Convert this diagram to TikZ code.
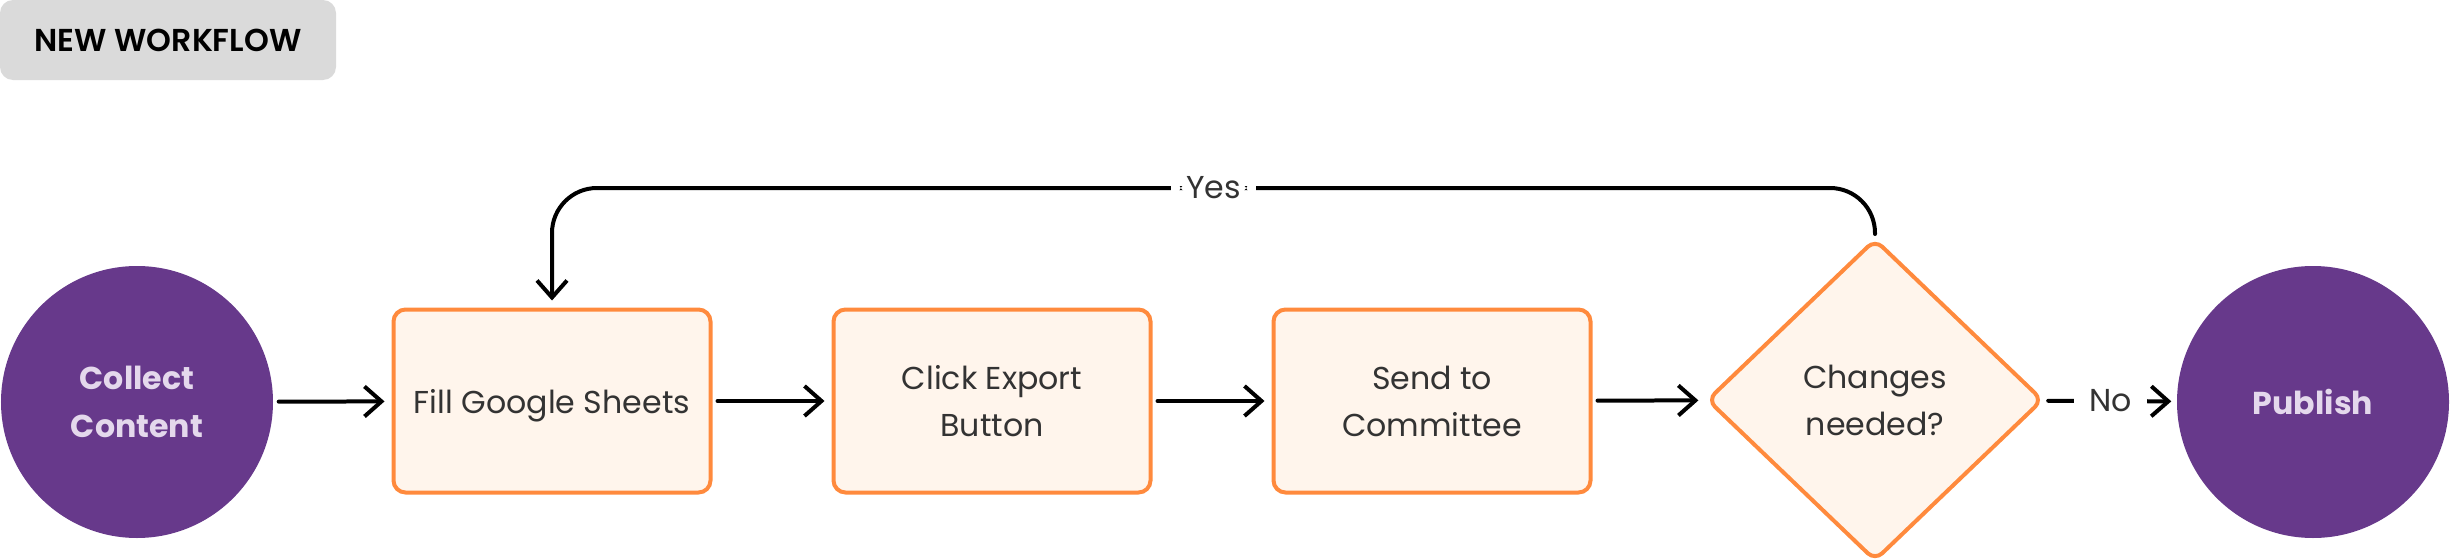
\documentclass[tikz,border=0pt]{standalone}
\usepackage{fontspec}
\setmainfont{Poppins}
\newfontfamily\semibold{Poppins SemiBold}
\usetikzlibrary{shapes.geometric,arrows.meta}

\definecolor{flowpurple}{HTML}{67398B}
\definecolor{flowlilac}{HTML}{E4D8EC}
\definecolor{floworange}{HTML}{FF8A3D}
\definecolor{flowcream}{HTML}{FFF5EC}
\definecolor{flowgrey}{HTML}{DADADA}
\definecolor{flowtext}{HTML}{333333}

\tikzset{
  endpoint/.style={circle, fill=flowpurple, minimum size=2.72cm, inner sep=0pt,
    align=center, text=flowlilac, font=\fontsize{9}{13.8}\selectfont\bfseries},
  task/.style={rectangle, rounded corners=0.12cm, draw=floworange, fill=flowcream,
    line width=0.04cm, minimum width=3.17cm, minimum height=1.83cm,
    align=center, text=flowtext, font=\fontsize{9}{13.4}\selectfont},
  decision/.style={diamond, rounded corners=0.1cm, draw=floworange, fill=flowcream,
    line width=0.04cm, minimum width=3.36cm, minimum height=3.22cm, inner sep=0pt,
    align=center, text=flowtext, font=\fontsize{9}{13.4}\selectfont},
  flow/.style={-{Straight Barb[length=0.17cm,width=0.3cm]}, line width=0.04cm,
    line cap=round, line join=round, shorten <=0.05cm, shorten >=0.07cm},
  answer/.style={fill=white, inner xsep=0.15cm, inner ysep=0.06cm, text=flowtext,
    font=\fontsize{9}{13.4}\selectfont}
}

\begin{document}
\begin{tikzpicture}[scale=1.0]

  % canvas: 2450 x 560 px, 1 px = 0.01 cm, origin at top left
  \useasboundingbox (0,0) rectangle (24.5,-5.6);

  % --- Title tag ---
  \node[rectangle, rounded corners=0.13cm, fill=flowgrey, minimum width=3.36cm,
        minimum height=0.80cm, text=black, font=\fontsize{9}{11}\selectfont\semibold]
        (title) at (1.68,-0.40) {NEW WORKFLOW};

  % --- Start and end ---
  \node[endpoint] (collect) at (1.37,-4.02) {Collect\\Content};
  \node[endpoint] (publish) at (23.13,-4.02) {Publish};

  % --- Steps ---
  \node[task, text depth=0pt] (fill) at (5.52,-4.01) {Fill Google Sheets};
  \node[task] (click) at (9.92,-4.01)  {Click Export\\Button};
  \node[task] (send)  at (14.32,-4.01) {Send to\\Committee};

  % --- Check ---
  \node[decision] (check) at (18.75,-4.00) {Changes\\needed?};

  % --- Main line ---
  \draw[flow] (collect) -- (fill);
  \draw[flow] (fill) -- (click);
  \draw[flow] (click) -- (send);
  \draw[flow] (send) -- (check);
  \draw[flow, shorten <=0.04cm, shorten >=0.05cm] (check) -- node[answer] {No} (publish);

  % --- Loop back ---
  \coordinate (loop) at (0,-1.88);
  \draw[flow, rounded corners=0.45cm, shorten <=0.03cm]
    (check.north) -- (check.north |- loop)
    -- node[answer] {Yes} (fill.north |- loop) -- (fill.north);

\end{tikzpicture}
\end{document}
